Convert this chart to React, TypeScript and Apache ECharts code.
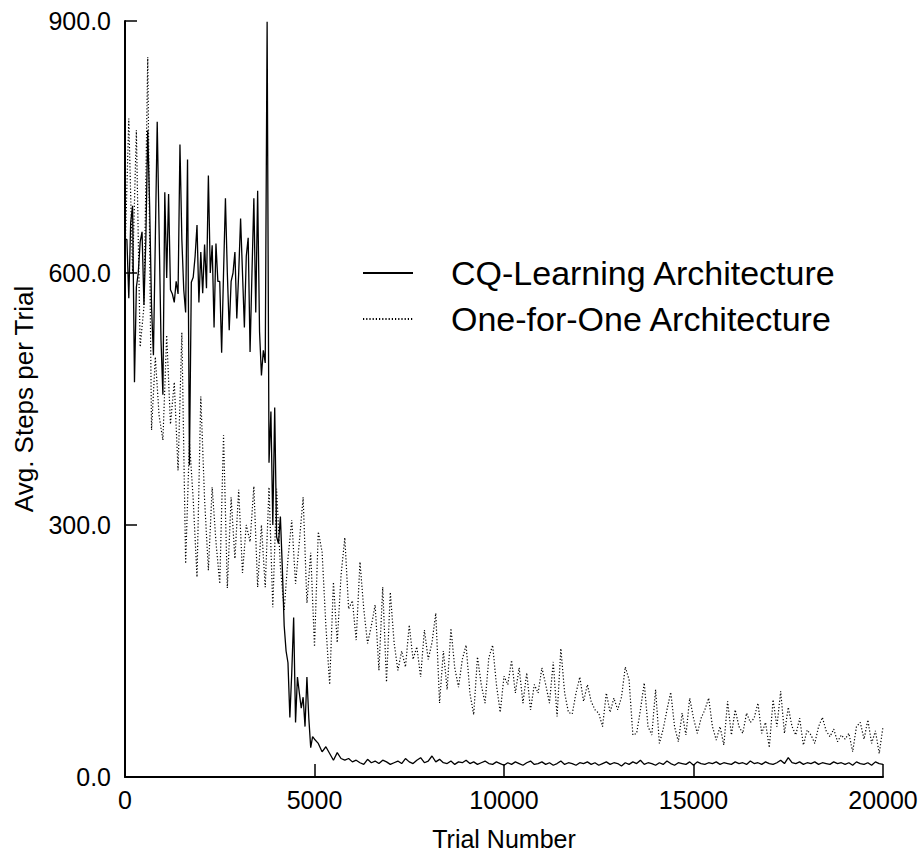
import { useEffect, useRef } from "react";
import * as echarts from "echarts";

const FONT = '"Liberation Sans", Arial, Helvetica, sans-serif';

// CQ-Learning: averages every 50 trials over the first 5000 trials
const cqEarlyStep = 50;
const cqEarly = [
  640, 640, 570, 660, 680, 470, 583, 600, 637, 649,
  562, 640, 770, 680, 560, 502, 640, 780, 650, 520,
  455, 696, 594, 694, 580, 575, 565, 590, 575, 753,
  640, 580, 553, 735, 371, 589, 595, 620, 657, 565,
  625, 576, 634, 582, 716, 600, 633, 535, 635, 590,
  590, 505, 600, 689, 600, 532, 590, 600, 625, 546,
  600, 665, 600, 535, 620, 642, 506, 600, 689, 553,
  698, 530, 478, 508, 493, 899, 374, 435, 300, 440,
  286, 278, 310, 250, 180, 150, 136, 71, 124, 190,
  65, 119, 100, 82, 95, 60, 119, 70, 35, 48,
  45,
];

// CQ-Learning: averages every 100 trials from 5100 to 20000
const cqLateStart = 5100;
const cqLateStep = 100;
const cqLate = [
  40, 30, 36, 28, 20, 29, 22, 20, 22, 18,
  20, 17, 15, 21, 17, 19, 16, 20, 18, 15,
  17, 19, 16, 22, 18, 16, 20, 23, 17, 19,
  25, 18, 21, 17, 16, 19, 15, 18, 17, 20,
  16, 18, 15, 17, 19, 16, 15, 18, 16, 14,
  17, 15, 18, 16, 14, 17, 19, 15, 16, 18,
  15, 17, 14, 16, 19, 15, 17, 16, 14, 17,
  16, 18, 15, 17, 14, 16, 18, 15, 17, 16,
  13, 17, 15, 18, 16, 20, 15, 17, 16, 14,
  17, 15, 19, 16, 14, 17, 16, 15, 18, 14,
  18, 16, 15, 17, 16, 18, 15, 17, 16, 15,
  18, 16, 17, 15, 19, 16, 17, 15, 18, 16,
  15, 17, 20, 16, 23, 17, 16, 18, 15, 17,
  16, 18, 15, 17, 16, 15, 18, 16, 17, 15,
  17, 14, 18, 16, 15, 17, 14, 18, 16, 15,
];

// One-for-One: averages every 100 trials from 0 to 20000
const ofoStep = 100;
const ofoSteps = [
  620, 784, 600, 770, 512, 560, 857, 413, 500, 430,
  401, 526, 420, 470, 365, 529, 254, 400, 330, 238,
  453, 330, 246, 345, 280, 230, 407, 225, 333, 260,
  342, 243, 300, 280, 346, 226, 300, 226, 345, 202,
  343, 250, 199, 260, 306, 230, 280, 333, 207, 267,
  155, 292, 268, 180, 110, 232, 160, 240, 285, 200,
  210, 163, 256, 200, 159, 180, 205, 127, 226, 113,
  220, 160, 127, 150, 131, 181, 140, 155, 119, 175,
  140, 160, 195, 88, 150, 104, 177, 130, 107, 140,
  157, 100, 74, 143, 110, 88, 142, 157, 110, 77,
  120, 110, 139, 100, 130, 88, 124, 80, 110, 100,
  130, 110, 88, 137, 72, 153, 100, 77, 75, 100,
  119, 90, 110, 90, 80, 76, 60, 100, 77, 94,
  80, 95, 131, 116, 50, 52, 80, 112, 60, 50,
  104, 40, 57, 80, 101, 60, 42, 76, 50, 94,
  70, 52, 70, 80, 94, 60, 44, 60, 38, 90,
  50, 80, 60, 52, 76, 65, 70, 88, 52, 65,
  35, 92, 60, 102, 52, 83, 60, 50, 70, 38,
  56, 50, 40, 60, 71, 55, 48, 57, 42, 50,
  45, 52, 30, 60, 65, 45, 68, 40, 55, 28,
  60,
];

const seriesNames = ["CQ-Learning Architecture", "One-for-One Architecture"];
const xTicks = { min: 0, max: 20000, interval: 5000 };
const yTicks = { min: 0, max: 900, interval: 300 };

export default function App() {
  const ref = useRef<HTMLDivElement>(null);

  useEffect(() => {
    if (!ref.current) return;
    const chart = echarts.init(ref.current, null, { renderer: "svg" });

    const cqData = [
      ...cqEarly.map((v, i) => [i * cqEarlyStep, v]),
      ...cqLate.map((v, i) => [cqLateStart + i * cqLateStep, v]),
    ];
    const ofoData = ofoSteps.map((v, i) => [i * ofoStep, v]);

    chart.setOption({
      animation: false,
      backgroundColor: "#ffffff",
      textStyle: { fontFamily: FONT, color: "#000" },
      grid: {
        left: 125,
        top: 21,
        width: 758,
        height: 756,
        containLabel: false,
        outerBoundsMode: "none",
      },
      legend: {
        orient: "vertical",
        left: 362,
        top: 254,
        itemWidth: 50,
        itemHeight: 14,
        itemGap: 8,
        padding: 0,
        selectedMode: false,
        itemStyle: { opacity: 0 },
        textStyle: {
          fontFamily: FONT,
          fontSize: 34,
          lineHeight: 38,
          color: "#000",
          padding: [0, 0, 0, 33],
        },
        data: seriesNames,
      },
      xAxis: {
        type: "value",
        ...xTicks,
        name: "Trial Number",
        nameLocation: "middle",
        nameGap: 49,
        nameTextStyle: { fontFamily: FONT, fontSize: 25, lineHeight: 25, color: "#000" },
        axisLine: { show: true, lineStyle: { color: "#000", width: 2 } },
        axisTick: { show: true, inside: true, length: 13, lineStyle: { color: "#000", width: 1.5 } },
        axisLabel: {
          fontFamily: FONT,
          fontSize: 25,
          color: "#000",
          margin: 10,
          formatter: (v: number) => String(v),
        },
        splitLine: { show: false },
      },
      yAxis: {
        type: "value",
        ...yTicks,
        name: "Avg. Steps per Trial",
        nameLocation: "middle",
        nameGap: 88,
        nameRotate: 90,
        nameTextStyle: { fontFamily: FONT, fontSize: 26, color: "#000" },
        axisLine: { show: true, lineStyle: { color: "#000", width: 2 } },
        axisTick: { show: true, inside: true, length: 12, lineStyle: { color: "#000", width: 1.5 } },
        axisLabel: {
          fontFamily: FONT,
          fontSize: 25,
          color: "#000",
          margin: 14,
          formatter: (v: number) => v.toFixed(1),
        },
        splitLine: { show: false },
      },
      series: [
        {
          type: "line",
          name: seriesNames[1],
          data: ofoData,
          symbol: "none",
          showSymbol: false,
          lineStyle: { color: "#000", width: 1.2, type: [1.2, 2] },
          itemStyle: { color: "#000" },
          z: 2,
        },
        {
          type: "line",
          name: seriesNames[0],
          data: cqData,
          symbol: "none",
          showSymbol: false,
          lineStyle: { color: "#000", width: 1.3 },
          itemStyle: { color: "#000" },
          z: 3,
        },
      ],
    });

    return () => chart.dispose();
  }, []);

  return (
    <div
      ref={ref}
      style={{ position: "fixed", left: 0, top: 0, width: 924, height: 854, background: "#fff" }}
    />
  );
}
